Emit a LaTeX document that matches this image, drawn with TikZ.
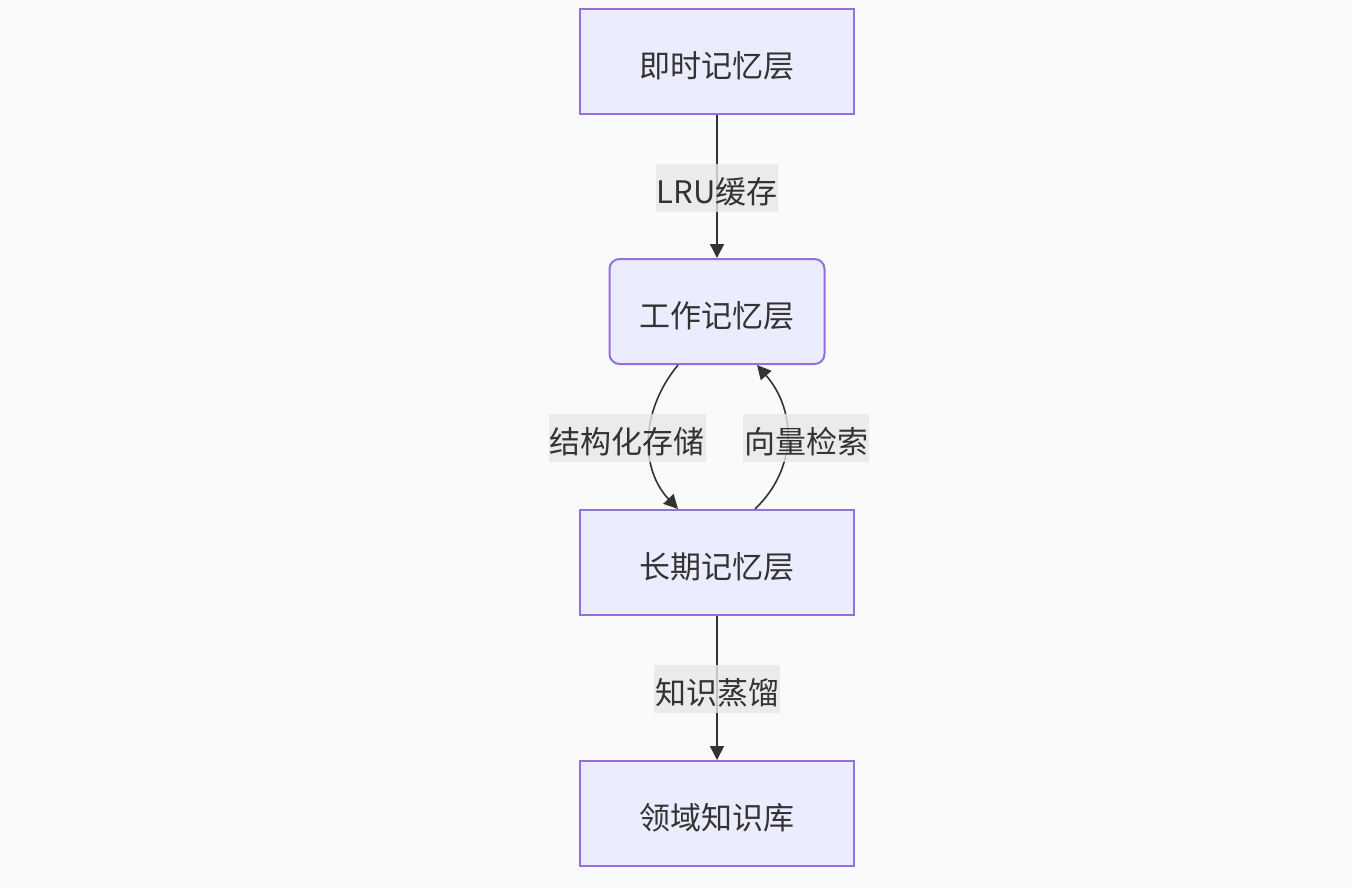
\documentclass[tikz,border=0pt]{standalone}
\usepackage{fontspec}
\setmainfont{Noto Sans CJK SC}
\usetikzlibrary{arrows.meta,calc}
\definecolor{bgc}{HTML}{FAFAFA}
\definecolor{boxfill}{HTML}{ECECFF}
\definecolor{boxline}{HTML}{9370DB}
\definecolor{txt}{HTML}{333333}
\definecolor{lblbg}{HTML}{E8E8E8}
\newcommand\lowtxt[1]{\raisebox{-2.2pt}[\height][\depth]{#1}}
\tikzset{
  layer/.style={draw=boxline, fill=boxfill, line width=1pt, text=txt,
    minimum width=137pt, minimum height=52.5pt, inner sep=0pt,
    font=\fontsize{15.5pt}{18pt}\selectfont},
  roundlayer/.style={layer, rounded corners=5pt, minimum width=107.5pt},
  edgelbl/.style={fill=lblbg, fill opacity=0.8, text opacity=1, text=txt,
    inner xsep=0.5pt, inner ysep=0pt, minimum height=24pt,
    font=\fontsize{15.5pt}{18pt}\selectfont},
  link/.style={draw=txt, line width=0.8pt, -{Triangle[length=7pt,width=7pt]}}
}
\begin{document}
\begin{tikzpicture}[x=0.5pt,y=-0.5pt]
\fill[bgc] (0,0) rectangle (1352,888);
\useasboundingbox (0,0) rectangle (1352,888);
\node[layer] (a) at (717,61.5) {\lowtxt{即时记忆层}};
\node[roundlayer] (b) at (717,311.5) {\lowtxt{工作记忆层}};
\node[layer] (c) at (717,562.5) {\lowtxt{长期记忆层}};
\node[layer] (d) at (717,813.5) {\lowtxt{领域知识库}};
\draw[link] (a.south) -- (b.north);
\draw[link] (c.south) -- (d.north);
\draw[link] ($(b.south)+(-39,0)$) .. controls ($(b.south)+(-77,46)$) and ($(c.north)+(-77,-40)$) .. ($(c.north)+(-39,0)$);
\draw[link] ($(c.north)+(38,0)$) .. controls ($(c.north)+(80,-40)$) and ($(b.south)+(80,46)$) .. ($(b.south)+(40,0)$);
\node[edgelbl] (l1) at (717,187.5) {\lowtxt{LRU缓存}};
\node[edgelbl] (l2) at (627,437.5) {\lowtxt{结构化存储}};
\node[edgelbl] (l3) at (806,437.5) {\lowtxt{向量检索}};
\node[edgelbl] (l4) at (717,688.5) {\lowtxt{知识蒸馏}};
\end{tikzpicture}
\end{document}
